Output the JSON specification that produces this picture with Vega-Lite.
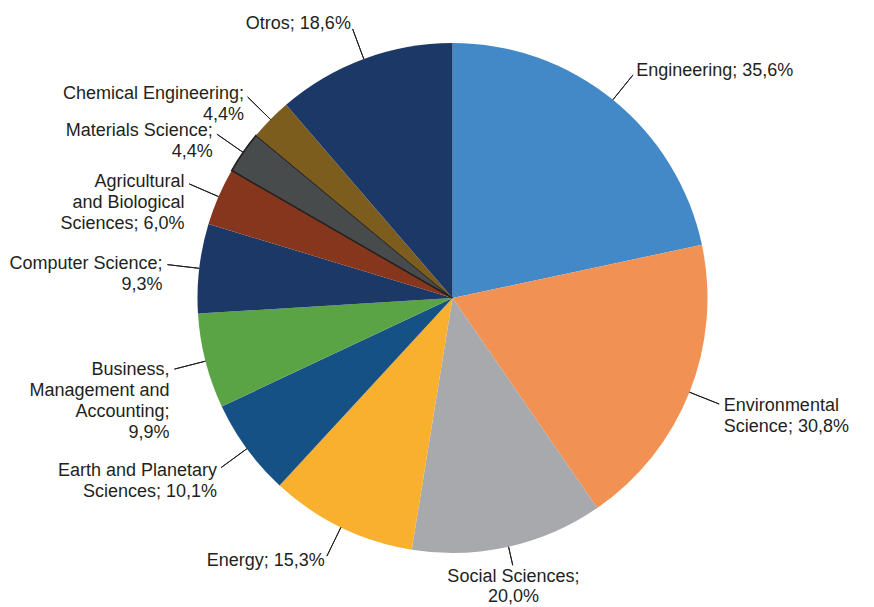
{
  "$schema": "https://vega.github.io/schema/vega-lite/v6.json",
  "width": 843,
  "height": 596,
  "autosize": {"type": "none"},
  "padding": {"left": 31, "top": 0, "right": 0, "bottom": 11},
  "background": "white",
  "config": {"view": {"stroke": null}},
  "data": {
    "values": [
      {"orden": 1, "categoria": "Engineering", "valor": 35.6, "etiqueta": "Engineering; 35,6%"},
      {"orden": 2, "categoria": "Environmental Science", "valor": 30.8, "etiqueta": "Environmental\nScience; 30,8%"},
      {"orden": 3, "categoria": "Social Sciences", "valor": 20.0, "etiqueta": "Social Sciences;\n20,0%"},
      {"orden": 4, "categoria": "Energy", "valor": 15.3, "etiqueta": "Energy; 15,3%"},
      {"orden": 5, "categoria": "Earth and Planetary Sciences", "valor": 10.1, "etiqueta": "Earth and Planetary\nSciences; 10,1%"},
      {"orden": 6, "categoria": "Business, Management and Accounting", "valor": 9.9, "etiqueta": "Business,\nManagement and\nAccounting;\n9,9%"},
      {"orden": 7, "categoria": "Computer Science", "valor": 9.3, "etiqueta": "Computer Science;\n9,3%"},
      {"orden": 8, "categoria": "Agricultural and Biological Sciences", "valor": 6.0, "etiqueta": "Agricultural\nand Biological\nSciences; 6,0%"},
      {"orden": 9, "categoria": "Materials Science", "valor": 4.4, "etiqueta": "Materials Science;\n4,4%"},
      {"orden": 10, "categoria": "Chemical Engineering", "valor": 4.4, "etiqueta": "Chemical Engineering;\n4,4%"},
      {"orden": 11, "categoria": "Otros", "valor": 18.6, "etiqueta": "Otros; 18,6%"}
    ]
  },
  "layer": [
    {
      "mark": {"type": "arc", "radius": 255, "strokeWidth": 1.5},
      "encoding": {
        "theta": {"field": "valor", "type": "quantitative", "stack": true},
        "order": {"field": "orden", "type": "quantitative", "sort": "ascending"},
        "color": {
          "field": "categoria",
          "type": "nominal",
          "legend": null,
          "scale": {
            "domain": ["Engineering", "Environmental Science", "Social Sciences", "Energy", "Earth and Planetary Sciences", "Business, Management and Accounting", "Computer Science", "Agricultural and Biological Sciences", "Materials Science", "Chemical Engineering", "Otros"],
            "range": ["#4389c8", "#f29154", "#a7a9ac", "#fab02f", "#165186", "#5ba446", "#1b3866", "#86361c", "#474b4c", "#7d5d1e", "#1b3866"]
          }
        },
        "stroke": {
          "condition": {"test": "datum.categoria == 'Materials Science'", "value": "#231f20"},
          "value": null
        }
      }
    },
    {
      "mark": {"type": "arc", "padAngle": 2, "fill": "transparent", "stroke": "#231f20", "strokeWidth": 1},
      "encoding": {
        "theta": {"field": "valor", "type": "quantitative", "stack": true},
        "order": {"field": "orden", "type": "quantitative", "sort": "ascending"},
        "detail": {"field": "categoria", "type": "nominal"},
        "radius": {"value": 287},
        "radius2": {"value": 255},
        "strokeOpacity": {"condition": {"test": "datum.orden == 3", "value": 0}, "value": 1}
      }
    },
    {
      "mark": {"type": "arc", "padAngle": 2, "fill": "transparent", "stroke": "#231f20", "strokeWidth": 1},
      "encoding": {
        "theta": {"field": "valor", "type": "quantitative", "stack": true},
        "order": {"field": "orden", "type": "quantitative", "sort": "ascending"},
        "detail": {"field": "categoria", "type": "nominal"},
        "radius": {"value": 274},
        "radius2": {"value": 255},
        "strokeOpacity": {"condition": {"test": "datum.orden == 3", "value": 1}, "value": 0}
      }
    },
    {
      "mark": {"type": "text", "align": "left", "baseline": "middle", "radius": 292, "font": "Liberation Sans", "fontSize": 18, "lineHeight": 21, "lineBreak": "\n", "color": "#231f20"},
      "encoding": {
        "theta": {"field": "valor", "type": "quantitative", "stack": true},
        "order": {"field": "orden", "type": "quantitative", "sort": "ascending"},
        "detail": {"field": "categoria", "type": "nominal"},
        "text": {"condition": {"test": "datum.orden <= 2", "field": "etiqueta"}, "value": ""}
      }
    },
    {
      "mark": {"type": "text", "align": "center", "baseline": "top", "radius": 277, "font": "Liberation Sans", "fontSize": 18, "lineHeight": 20, "lineBreak": "\n", "color": "#231f20"},
      "encoding": {
        "theta": {"field": "valor", "type": "quantitative", "stack": true},
        "order": {"field": "orden", "type": "quantitative", "sort": "ascending"},
        "detail": {"field": "categoria", "type": "nominal"},
        "text": {"condition": {"test": "datum.orden == 3", "field": "etiqueta"}, "value": ""}
      }
    },
    {
      "mark": {"type": "text", "align": "right", "baseline": "middle", "radius": 292, "font": "Liberation Sans", "fontSize": 18, "lineHeight": 21, "lineBreak": "\n", "color": "#231f20"},
      "encoding": {
        "theta": {"field": "valor", "type": "quantitative", "stack": true},
        "order": {"field": "orden", "type": "quantitative", "sort": "ascending"},
        "detail": {"field": "categoria", "type": "nominal"},
        "text": {"condition": {"test": "datum.orden >= 4", "field": "etiqueta"}, "value": ""}
      }
    }
  ]
}
